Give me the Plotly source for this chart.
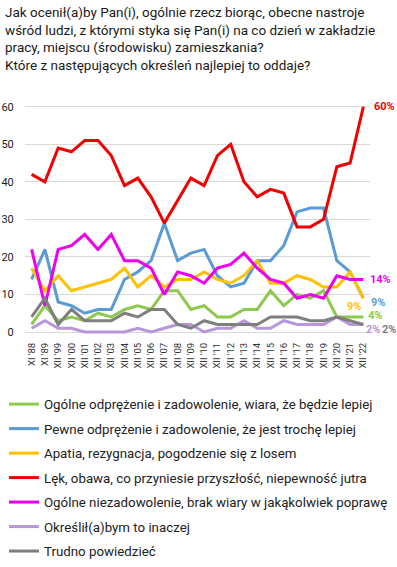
import plotly.graph_objects as go

categories = ["XI '88", "XI '89", "XII '99", "XII '00", "XII '01", "XII '02", "XII '03", "XII '04",
              "XII '05", "XII '06", "XII '07", "XII '08", "XII '09", "XII '10", "XII '11", "XII '12",
              "XII '13", "XII '14", "XII '15", "XII '16", "XII '17", "XII '18", "XII '19", "XII '20",
              "XII '21", "XII '22"]

odprezenie_wiara = [2, 7, 3, 4, 3, 5, 4, 6, 7, 6, 11, 11, 6, 7, 4, 4, 6, 6, 11, 7, 10, 9, 11, 4, 4, 4]
pewne_odprezenie = [14, 22, 8, 7, 5, 6, 6, 14, 16, 19, 29, 19, 21, 22, 15, 12, 13, 19, 19, 23, 32, 33, 33, 19, 16, 9]
apatia = [17, 11, 15, 11, 12, 13, 14, 17, 12, 15, 12, 14, 14, 16, 14, 13, 15, 19, 13, 13, 15, 14, 12, 12, 16, 9]
lek_obawa = [42, 40, 49, 48, 51, 51, 47, 39, 41, 36, 29, 35, 41, 39, 47, 50, 40, 36, 38, 37, 28, 28, 30, 44, 45, 60]
niezadowolenie = [22, 7, 22, 23, 26, 22, 26, 19, 19, 17, 10, 16, 15, 13, 17, 18, 21, 17, 14, 13, 9, 10, 9, 15, 14, 14]
inaczej = [1, 3, 1, 1, 0, 0, 0, 0, 1, 0, 1, 2, 2, 0, 1, 1, 3, 1, 1, 3, 2, 2, 2, 4, 2, 2]
trudno = [4, 9, 2, 6, 3, 3, 3, 5, 4, 6, 6, 2, 1, 3, 2, 2, 2, 2, 4, 4, 4, 3, 3, 4, 3, 2]

names = [
    "Ogólne odprężenie i zadowolenie, wiara, że będzie lepiej",
    "Pewne odprężenie i zadowolenie, że jest trochę lepiej",
    "Apatia, rezygnacja, pogodzenie się z losem",
    "Lęk, obawa, co przyniesie przyszłość, niepewność jutra",
    "Ogólne niezadowolenie, brak wiary w jakąkolwiek poprawę",
    "Określił(a)bym to inaczej",
    "Trudno powiedzieć",
]
series = [odprezenie_wiara, pewne_odprezenie, apatia, lek_obawa, niezadowolenie, inaczej, trudno]
colors = ["#8DC84F", "#5B9BD5", "#FFC000", "#F00000", "#EE00EE", "#B796DC", "#7F7F7F"]

fig = go.Figure()
for i, (n, s, c) in enumerate(zip(names, series, colors)):
    fig.add_trace(go.Scatter(x=categories, y=s, name=n, mode="lines",
                             line=dict(color=c, width=3), legendgroup=str(i)))

# end labels: (series index, x shift, y shift)
end_labels = [(3, 21, 0), (4, 17, 0), (1, 15, -4), (2, -9, -8), (0, 12, 1), (5, 10, -5), (6, 26, -5)]
for idx, xs, ys in end_labels:
    val = series[idx][-1]
    fig.add_annotation(x=categories[-1], y=val, text=f"<b>{val}%</b>", showarrow=False,
                       xshift=xs, yshift=ys, font=dict(color=colors[idx], size=11, family="Roboto"))

title_text = ("Jak ocenił(a)by Pan(i), ogólnie rzecz biorąc, obecne nastroje<br>"
              "wśród ludzi, z którymi styka się Pan(i) na co dzień w zakładzie<br>"
              "pracy, miejscu (środowisku) zamieszkania?<br>"
              "Które z następujących określeń najlepiej to oddaje?")
fig.add_annotation(xref="paper", yref="paper", x=(3 - 25) / 345, y=(335 - 2) / 232,
                   xanchor="left", yanchor="top", align="left", showarrow=False,
                   text=title_text, font=dict(size=13.5, family="Roboto", color="#1a1a1a"))

fig.update_layout(
    width=397, height=567,
    margin=dict(l=25, r=27, t=103, b=232, autoexpand=False),
    plot_bgcolor="white", paper_bgcolor="white",
    font=dict(family="Roboto", color="#222222"),
    xaxis=dict(type="category", range=[-0.5, 25.5], tickangle=-90, showgrid=False,
               tickfont=dict(size=9.5, color="#333333"), ticks="outside", ticklen=3,
               tickcolor="rgba(0,0,0,0)", showline=False, automargin=False),
    yaxis=dict(range=[-0.8, 61], tickvals=[0, 10, 20, 30, 40, 50, 60], showgrid=True,
               gridcolor="#D9D9D9", gridwidth=1, zeroline=False, automargin=False,
               tickfont=dict(size=11, color="#222222"), ticks="outside", ticklen=8,
               tickcolor="rgba(0,0,0,0)"),
    legend=dict(xref="container", yref="container", x=0.01, y=0.314, xanchor="left", yanchor="top",
                orientation="v", traceorder="grouped", tracegroupgap=4.2,
                font=dict(size=13.3, color="#222222"), itemwidth=30),
    showlegend=True,
)

fig.write_html("out.html", config={"displayModeBar": False},
               post_script="document.body.style.margin='0';")
